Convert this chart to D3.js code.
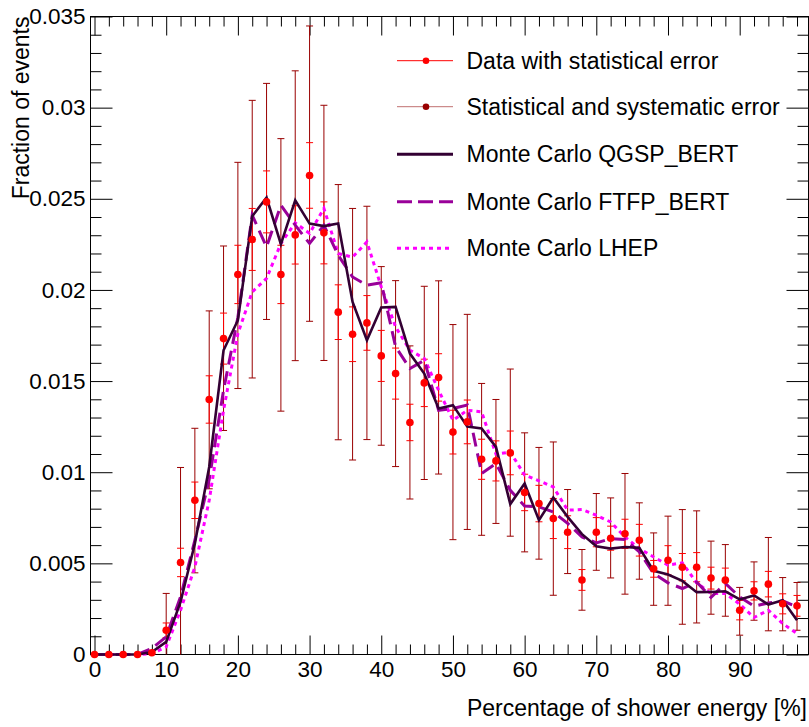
<!DOCTYPE html>
<html>
<head>
<meta charset="utf-8">
<script src="https://cdn.jsdelivr.net/npm/d3@7"></script>
<style>
  body { margin: 0; background: #fff; }
  svg { display: block; }
  text { font-family: "Liberation Sans", Arial, Helvetica, sans-serif; fill: #000; }
</style>
</head>
<body>
<svg id="chart" width="809" height="727"></svg>
<script>
// Bin centres of the shower-energy histogram [%]
const binCentres = [0, 2, 4, 6, 8, 10, 12, 14, 16, 18, 20, 22, 24, 26, 28, 30, 32, 34, 36, 38,
  40, 42, 44, 46, 48, 50, 52, 54, 56, 58, 60, 62, 64, 66, 68, 70, 72, 74, 76, 78,
  80, 82, 84, 86, 88, 90, 92, 94, 96, 98];

// Measured fraction of events
const dataFraction = [0, 0, 0, 0, 0.0001, 0.00133, 0.00505, 0.00846, 0.01399, 0.01733,
  0.02085, 0.02277, 0.02483, 0.02085, 0.02302, 0.02628, 0.02313, 0.01878, 0.01757, 0.01819,
  0.01638, 0.01541, 0.01273, 0.0149, 0.0152, 0.0122, 0.01276, 0.01071, 0.01062, 0.01106,
  0.00889, 0.00828, 0.00746, 0.00671, 0.00409, 0.00671, 0.00638, 0.00662, 0.00627, 0.0047,
  0.00517, 0.00479, 0.00479, 0.00419, 0.00408, 0.00243, 0.00349, 0.00386, 0.00278, 0.00267];

// Statistical error (symmetric)
const statError = [0, 0, 0, 0, 0.00005, 0.0004, 0.00078, 0.001, 0.0013, 0.0014,
  0.0016, 0.0017, 0.0017, 0.0016, 0.0016, 0.0018, 0.0017, 0.0015, 0.0015, 0.0015,
  0.0014, 0.0014, 0.001, 0.0013, 0.0013, 0.0012, 0.0012, 0.0011, 0.0011, 0.0012,
  0.001, 0.001, 0.0011, 0.0009, 0.00057, 0.0008, 0.00066, 0.0008, 0.00087, 0.00046,
  0.0008, 0.00075, 0.0008, 0.0006, 0.00066, 0.00053, 0.0005, 0.0007, 0.00055, 0.00057];

// Statistical + systematic error, upper and lower
const totalErrorUp = [0, 0, 0, 0, 0, 0.00202, 0.00521, 0.00395, 0.00486, 0.00508,
  0.00615, 0.00763, 0.0065, 0.00745, 0.009, 0.0082, 0.007, 0.007, 0.0069, 0.0064,
  0.0049, 0.0051, 0.0042, 0.0053, 0.0053, 0.0059, 0.0059, 0.00416, 0.00337, 0.0046,
  0.00327, 0.00308, 0.0042, 0.00234, 0.00167, 0.00212, 0.00221, 0.00331, 0.00205, 0.00197,
  0.00242, 0.00316, 0.00309, 0.00203, 0.00195, 0.00125, 0.00159, 0.00256, 0.00144, 0.00128];
const totalErrorDown = [0, 0, 0, 0, 0, 0.00133, 0.00505, 0.00398, 0.0049, 0.00504,
  0.00626, 0.0076, 0.00645, 0.0075, 0.0069, 0.008, 0.007, 0.007, 0.0069, 0.0064,
  0.0049, 0.0051, 0.0042, 0.0053, 0.0053, 0.0059, 0.0059, 0.00417, 0.00343, 0.00457,
  0.00326, 0.00305, 0.00421, 0.00227, 0.00166, 0.00209, 0.00218, 0.00331, 0.00214, 0.002,
  0.00247, 0.00313, 0.00306, 0.00198, 0.00198, 0.00137, 0.00161, 0.00256, 0.00148, 0.00134];

// Monte Carlo predictions
const mcQGSP = [0, 0, 0, 0, 0.00014, 0.00069, 0.00289, 0.00609, 0.01029, 0.01669,
  0.01834, 0.02404, 0.02507, 0.02251, 0.02492, 0.02364, 0.0235, 0.02364, 0.01934, 0.01724,
  0.01904, 0.01907, 0.01651, 0.01541, 0.0135, 0.01368, 0.0125, 0.0124, 0.01139, 0.00825,
  0.00938, 0.00737, 0.00861, 0.00755, 0.0066, 0.00594, 0.00581, 0.0059, 0.00585, 0.00459,
  0.00439, 0.00404, 0.00342, 0.00343, 0.00347, 0.00302, 0.00324, 0.00274, 0.00298, 0.00188];
const mcFTFP = [0, 0, 0, 0, 0.00033, 0.00097, 0.00316, 0.00627, 0.0096, 0.0145,
  0.0185, 0.0241, 0.02236, 0.02465, 0.02355, 0.02255, 0.02355, 0.0219, 0.02071, 0.02026,
  0.02039, 0.01688, 0.01569, 0.01614, 0.0134, 0.0135, 0.01368, 0.00993, 0.01048, 0.00901,
  0.00814, 0.0081, 0.00782, 0.00719, 0.00645, 0.00612, 0.00636, 0.00631, 0.00563, 0.00444,
  0.00393, 0.00362, 0.00398, 0.00313, 0.0039, 0.00316, 0.00265, 0.00283, 0.00294, 0.00261];
const mcLHEP = [0, 0, 0, 0, 0.00005, 0.00042, 0.00243, 0.0048, 0.00846, 0.0134,
  0.0176, 0.01989, 0.02063, 0.02255, 0.02368, 0.0231, 0.02447, 0.022, 0.0218, 0.02263,
  0.02017, 0.01797, 0.01669, 0.01624, 0.0145, 0.01285, 0.0134, 0.01331, 0.01099, 0.01111,
  0.00984, 0.00953, 0.00919, 0.00792, 0.00795, 0.00764, 0.00727, 0.00645, 0.00581, 0.00535,
  0.0049, 0.00503, 0.00393, 0.00335, 0.00335, 0.00276, 0.00203, 0.00243, 0.0017, 0.00115];

// Axis ticks
const xMajorTicks = [0, 10, 20, 30, 40, 50, 60, 70, 80, 90];
const xTickLabels = ["0", "10", "20", "30", "40", "50", "60", "70", "80", "90"];
const yMajorTicks = [0, 0.005, 0.01, 0.015, 0.02, 0.025, 0.03, 0.035];
const yTickLabels = ["0", "0.005", "0.01", "0.015", "0.02", "0.025", "0.03", "0.035"];

const legendLabels = ["Data with statistical error", "Statistical and systematic error",
  "Monte Carlo QGSP_BERT", "Monte Carlo FTFP_BERT", "Monte Carlo LHEP"];

// ---- layout ----
const frame = { left: 90.5, right: 808.5, top: 16.5, bottom: 654.5 };
const x = d3.scaleLinear().domain([-0.56, 99.6]).range([frame.left, frame.right]);
const y = d3.scaleLinear().domain([0, 0.035]).range([frame.bottom, frame.top]);

const svg = d3.select("#chart");
const col = { data: "#ff0000", total: "#990000", qgsp: "#330033", ftfp: "#990099", lhep: "#ff00ff" };

// minor tick positions
const xMinor = d3.range(0, 100, 2).filter(v => v % 10 !== 0);
const yMinor = d3.range(0, 36).map(i => i / 1000).filter((v, i) => i % 5 !== 0);

function tickGroup(axis, transform) {
  const g = svg.append("g").attr("transform", transform).call(axis);
  g.select(".domain").remove();
  g.selectAll(".tick line").attr("stroke", "#000").attr("stroke-width", 1);
  return g;
}

// bottom axis with labels
const xLabelMap = new Map(xMajorTicks.map((v, i) => [v, xTickLabels[i]]));
const gxb = tickGroup(d3.axisBottom(x).tickValues(xMajorTicks).tickSize(-19).tickPadding(7)
  .tickFormat(d => xLabelMap.get(d)), `translate(0,${frame.bottom})`);
gxb.selectAll("text").attr("font-size", 22.5).attr("font-family", "Liberation Sans, Arial, sans-serif").attr("fill", "#000");
tickGroup(d3.axisBottom(x).tickValues(xMinor).tickSize(-10).tickFormat(""), `translate(0,${frame.bottom})`);
// top mirror
tickGroup(d3.axisTop(x).tickValues(xMajorTicks).tickSize(-19).tickFormat(""), `translate(0,${frame.top})`);
tickGroup(d3.axisTop(x).tickValues(xMinor).tickSize(-10).tickFormat(""), `translate(0,${frame.top})`);

// left axis with labels
const yLabelMap = new Map(yMajorTicks.map((v, i) => [v, yTickLabels[i]]));
const gyl = tickGroup(d3.axisLeft(y).tickValues(yMajorTicks).tickSize(-22).tickPadding(5)
  .tickFormat(d => yLabelMap.get(d)), `translate(${frame.left},0)`);
gyl.selectAll("text").attr("font-size", 22.5).attr("font-family", "Liberation Sans, Arial, sans-serif").attr("fill", "#000");
tickGroup(d3.axisLeft(y).tickValues(yMinor).tickSize(-11).tickFormat(""), `translate(${frame.left},0)`);
// right mirror
tickGroup(d3.axisRight(y).tickValues(yMajorTicks).tickSize(-22).tickFormat(""), `translate(${frame.right},0)`);
tickGroup(d3.axisRight(y).tickValues(yMinor).tickSize(-11).tickFormat(""), `translate(${frame.right},0)`);

// frame
svg.append("rect")
  .attr("x", frame.left).attr("y", frame.top)
  .attr("width", frame.right - frame.left).attr("height", frame.bottom - frame.top)
  .attr("fill", "none").attr("stroke", "#000").attr("stroke-width", 1);

// axis titles
svg.append("text")
  .attr("x", 807).attr("y", 716)
  .attr("text-anchor", "end").attr("font-size", 23)
  .text("Percentage of shower energy [%]");
svg.append("text")
  .attr("transform", `translate(29,${frame.top}) rotate(-90)`)
  .attr("text-anchor", "end").attr("font-size", 23)
  .text("Fraction of events");

// ---- data points ----
const points = binCentres.map((c, i) => ({
  c, v: dataFraction[i], s: statError[i], up: totalErrorUp[i], dn: totalErrorDown[i]
}));
const clampY = v => y(Math.max(0, Math.min(0.035, v)));
const cap = 3.5;

function errorBars(cls, color, lo, hi) {
  const g = svg.append("g").attr("class", cls).attr("stroke", color).attr("stroke-width", 1).attr("fill", "none");
  const withErr = points.filter(p => hi(p) > p.v);
  g.selectAll("line.v").data(withErr).join("line").attr("class", "v")
    .attr("x1", p => x(p.c)).attr("x2", p => x(p.c))
    .attr("y1", p => clampY(lo(p))).attr("y2", p => clampY(hi(p)));
  g.selectAll("line.t").data(withErr.filter(p => hi(p) <= 0.035)).join("line").attr("class", "t")
    .attr("x1", p => x(p.c) - cap).attr("x2", p => x(p.c) + cap)
    .attr("y1", p => y(hi(p))).attr("y2", p => y(hi(p)));
  g.selectAll("line.b").data(withErr.filter(p => lo(p) > 0)).join("line").attr("class", "b")
    .attr("x1", p => x(p.c) - cap).attr("x2", p => x(p.c) + cap)
    .attr("y1", p => y(lo(p))).attr("y2", p => y(lo(p)));
}
errorBars("total-err", col.total, p => p.v - p.dn, p => p.v + p.up);
errorBars("stat-err", col.data, p => p.v - p.s, p => p.v + p.s);

// ---- Monte Carlo curves ----
const line = d3.line().x((d, i) => x(binCentres[i])).y(d => y(d));
svg.append("path").datum(mcLHEP).attr("d", line)
  .attr("fill", "none").attr("stroke", col.lhep).attr("stroke-width", 3).attr("stroke-dasharray", "4 4");
svg.append("path").datum(mcFTFP).attr("d", line)
  .attr("fill", "none").attr("stroke", col.ftfp).attr("stroke-width", 3).attr("stroke-dasharray", "14 7");
svg.append("path").datum(mcQGSP).attr("d", line)
  .attr("fill", "none").attr("stroke", col.qgsp).attr("stroke-width", 2.6).attr("stroke-linejoin", "miter");

// markers
svg.append("g").selectAll("circle").data(points).join("circle")
  .attr("cx", p => x(p.c)).attr("cy", p => y(p.v)).attr("r", 3.8).attr("fill", col.data);

// ---- legend ----
const legendRowsY = [60.7, 106.7, 154.3, 201.7, 248.3];
const legendStyles = [
  { stroke: col.data, width: 1, dash: null, marker: col.data },
  { stroke: "#c07070", width: 1, dash: null, marker: col.total },
  { stroke: col.qgsp, width: 3, dash: null },
  { stroke: col.ftfp, width: 3, dash: "15 6" },
  { stroke: col.lhep, width: 3, dash: "4 4" }
];
const lg = svg.append("g");
legendLabels.forEach((label, i) => {
  const ly = legendRowsY[i], st = legendStyles[i];
  lg.append("line").attr("x1", 397).attr("x2", 453).attr("y1", ly).attr("y2", ly)
    .attr("stroke", st.stroke).attr("stroke-width", st.width)
    .attr("stroke-dasharray", st.dash);
  if (st.marker) lg.append("circle").attr("cx", 426).attr("cy", ly).attr("r", 3.3).attr("fill", st.marker);
  lg.append("text").attr("x", 466.5).attr("y", ly + 8).attr("font-size", 23).text(label);
});
</script>
</body>
</html>
